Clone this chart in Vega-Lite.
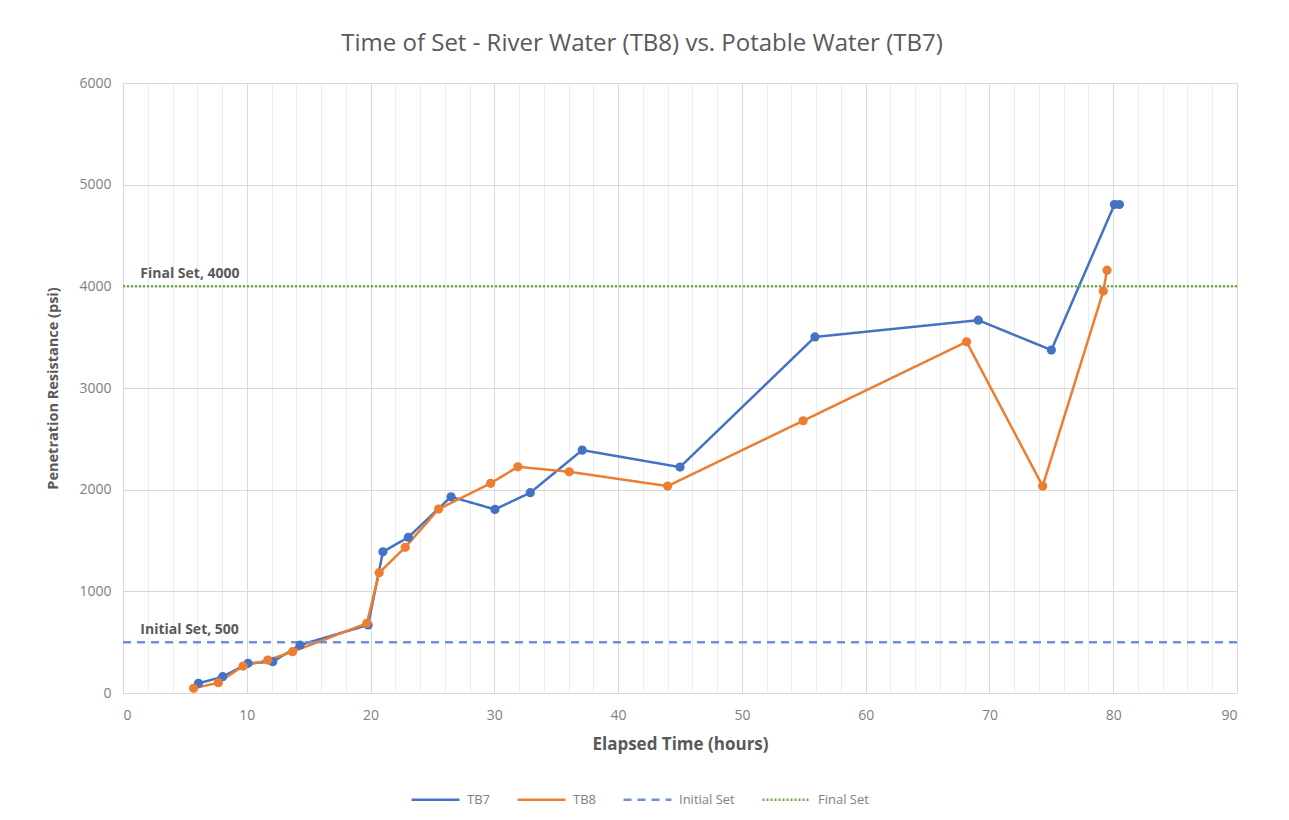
{
  "$schema": "https://vega.github.io/schema/vega-lite/v6.json",
  "width": 1114,
  "height": 610,
  "autosize": {"type": "none"},
  "padding": {"left": 123, "top": 83, "right": 52, "bottom": 127},
  "background": "white",
  "title": {
    "text": "Time of Set - River Water (TB8) vs. Potable Water (TB7)",
    "font": "Open Sans",
    "fontSize": 24,
    "fontWeight": "normal",
    "color": "#595959",
    "anchor": "middle",
    "dx": -38,
    "offset": 20
  },
  "config": {
    "font": "Open Sans",
    "view": {"stroke": null},
    "axis": {
      "labelFont": "Open Sans",
      "labelColor": "#808080",
      "labelFontSize": 14,
      "titleFont": "Open Sans",
      "titleColor": "#595959",
      "titleFontWeight": "bold",
      "ticks": false
    }
  },
  "data": {
    "values": [
      {"series": "TB7", "hours": 6.1, "psi": 95},
      {"series": "TB7", "hours": 8.05, "psi": 160},
      {"series": "TB7", "hours": 10.1, "psi": 292},
      {"series": "TB7", "hours": 12.1, "psi": 308},
      {"series": "TB7", "hours": 14.3, "psi": 472},
      {"series": "TB7", "hours": 19.8, "psi": 669},
      {"series": "TB7", "hours": 21.0, "psi": 1389},
      {"series": "TB7", "hours": 23.05, "psi": 1531},
      {"series": "TB7", "hours": 26.5, "psi": 1930},
      {"series": "TB7", "hours": 30.05, "psi": 1806},
      {"series": "TB7", "hours": 32.9, "psi": 1970},
      {"series": "TB7", "hours": 37.1, "psi": 2389},
      {"series": "TB7", "hours": 45.0, "psi": 2222},
      {"series": "TB7", "hours": 55.9, "psi": 3502},
      {"series": "TB7", "hours": 69.1, "psi": 3667},
      {"series": "TB7", "hours": 75.0, "psi": 3373},
      {"series": "TB7", "hours": 80.1, "psi": 4805},
      {"series": "TB7", "hours": 80.5, "psi": 4805},
      {"series": "TB8", "hours": 5.7, "psi": 46},
      {"series": "TB8", "hours": 7.7, "psi": 101},
      {"series": "TB8", "hours": 9.7, "psi": 265},
      {"series": "TB8", "hours": 11.7, "psi": 324},
      {"series": "TB8", "hours": 13.7, "psi": 406},
      {"series": "TB8", "hours": 19.7, "psi": 685},
      {"series": "TB8", "hours": 20.7, "psi": 1183},
      {"series": "TB8", "hours": 22.8, "psi": 1433},
      {"series": "TB8", "hours": 25.5, "psi": 1809},
      {"series": "TB8", "hours": 29.7, "psi": 2062},
      {"series": "TB8", "hours": 31.9, "psi": 2225},
      {"series": "TB8", "hours": 36.05, "psi": 2176},
      {"series": "TB8", "hours": 44.0, "psi": 2035},
      {"series": "TB8", "hours": 54.95, "psi": 2678},
      {"series": "TB8", "hours": 68.15, "psi": 3454},
      {"series": "TB8", "hours": 74.3, "psi": 2035},
      {"series": "TB8", "hours": 79.2, "psi": 3953},
      {"series": "TB8", "hours": 79.5, "psi": 4159},
      {"series": "Initial Set", "hours": 0, "psi": 500, "label": "Initial Set, 500"},
      {"series": "Initial Set", "hours": 90, "psi": 500},
      {"series": "Final Set", "hours": 0, "psi": 4000, "label": "Final Set, 4000"},
      {"series": "Final Set", "hours": 90, "psi": 4000}
    ]
  },
  "encoding": {
    "x": {
      "field": "hours",
      "type": "quantitative",
      "scale": {"domain": [0, 90], "nice": false},
      "axis": {
        "title": "Elapsed Time (hours)",
        "titleFontSize": 17,
        "values": [0,2,4,6,8,10,12,14,16,18,20,22,24,26,28,30,32,34,36,38,40,42,44,46,48,50,52,54,56,58,60,62,64,66,68,70,72,74,76,78,80,82,84,86,88,90],
        "labelExpr": "datum.value % 10 === 0 ? datum.label : ''",
        "gridColor": {"condition": {"test": "datum.value % 10 === 0", "value": "#d9d9d9"}, "value": "#ececec"},
        "domainColor": "#d9d9d9",
        "labelPadding": 15,
        "titlePadding": 14
      }
    },
    "y": {
      "field": "psi",
      "type": "quantitative",
      "scale": {"domain": [0, 6000], "nice": false},
      "axis": {
        "title": "Penetration Resistance (psi)",
        "titleFontSize": 14.5,
        "values": [0, 1000, 2000, 3000, 4000, 5000, 6000],
        "format": "d",
        "gridColor": "#d9d9d9",
        "domain": false,
        "labelPadding": 12,
        "titlePadding": 18
      }
    }
  },
  "layer": [
    {
      "mark": {"type": "line", "strokeWidth": 2.5},
      "encoding": {
        "color": {
          "field": "series",
          "type": "nominal",
          "scale": {"domain": ["TB7", "TB8", "Initial Set", "Final Set"], "range": ["#4472C4", "#ED7D31", "#6f8fd6", "#70AD47"]},
          "legend": {
            "title": null,
            "orient": "none",
            "direction": "horizontal",
            "legendX": 287,
            "legendY": 691,
            "symbolType": "stroke",
            "symbolSize": 2300,
            "symbolStrokeWidth": 2.5,
            "labelFont": "Open Sans",
            "labelFontSize": 13,
            "labelColor": "#808080",
            "columnPadding": 22,
            "labelOffset": 6
          }
        },
        "strokeDash": {
          "field": "series",
          "type": "nominal",
          "scale": {"domain": ["TB7", "TB8", "Initial Set", "Final Set"], "range": [[1, 0], [1, 0], [8, 6], [2, 2]]},
          "legend": null
        }
      }
    },
    {
      "transform": [{"filter": "datum.series === 'TB7' || datum.series === 'TB8'"}],
      "mark": {"type": "circle", "size": 85, "opacity": 1},
      "encoding": {
        "color": {"field": "series", "type": "nominal", "legend": null}
      }
    },
    {
      "transform": [{"filter": "isValid(datum.label)"}],
      "mark": {"type": "text", "align": "left", "baseline": "alphabetic", "dy": -8, "font": "Open Sans", "fontSize": 14, "fontWeight": "bold", "fill": "#595959"},
      "encoding": {
        "x": {"datum": 1.4, "type": "quantitative"},
        "text": {"field": "label", "type": "nominal"}
      }
    }
  ]
}
